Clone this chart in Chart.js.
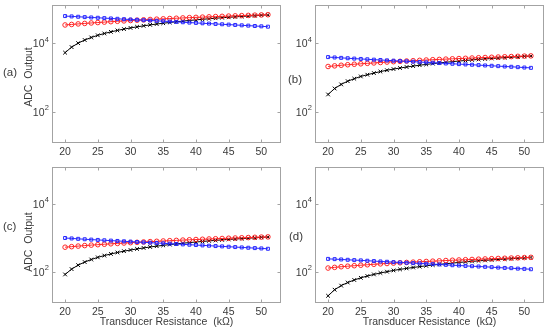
<!DOCTYPE html>
<html>
<head>
<meta charset="utf-8">
<script src="https://cdn.jsdelivr.net/npm/chart.js@4.4.1/dist/chart.umd.min.js"></script>
<style>
  html, body { margin: 0; padding: 0; background: #ffffff; }
  #wrap { position: relative; width: 550px; height: 333px; overflow: hidden; }
  #wrap canvas { position: absolute; left: 0; top: 0; }
</style>
</head>
<body>
<div id="wrap">
  <canvas id="pa" width="550" height="333"></canvas>
  <canvas id="pb" width="550" height="333"></canvas>
  <canvas id="pc" width="550" height="333"></canvas>
  <canvas id="pd" width="550" height="333"></canvas>
</div>
<script>
// ---- data ----
const resistance = [20,21,22,23,24,25,26,27,28,29,30,31,32,33,34,35,36,37,38,39,40,41,42,43,44,45,46,47,48,49,50,51];
const xTickValues = [20,25,30,35,40,45,50];
const yTickExponents = [2,4];
const panelLabels = ['(a)','(b)','(c)','(d)'];
const yTitle = 'ADC  Output';
const xTitle = 'Transducer Resistance  (kΩ)';

const aBlue  = [61700,60300,58900,57500,56200,55000,53700,52500,51300,50100,49000,47900,46800,45700,44700,43700,42700,41700,40700,39800,38900,38000,37200,36300,35500,34700,33900,33100,32400,31600,30900,30200];
const aRed   = [33900,35100,36400,37600,38800,39900,41100,42300,43400,44600,45700,46800,47900,49000,50100,51200,52300,53300,54400,55500,56500,57500,58600,59600,60600,61600,62600,63600,64600,65600,66600,67600];
const aBlack = [5250,7620,9970,12300,14600,16900,19100,21300,23500,25700,27800,29900,32000,34100,36100,38100,40100,42100,44000,45900,47800,49600,51500,53300,55100,56800,58500,60200,61900,63500,65500,67000];

const bBlue  = [3900,3800,3700,3610,3520,3440,3360,3280,3210,3130,3060,2990,2930,2860,2790,2730,2670,2610,2540,2490,2430,2380,2330,2270,2220,2170,2120,2070,2030,1980,1930,1890];
const bRed   = [2070,2160,2250,2330,2410,2480,2560,2630,2710,2790,2860,2930,2990,3060,3130,3200,3270,3330,3400,3470,3530,3590,3660,3730,3790,3850,3910,3980,4040,4100,4160,4230];
const bBlack = [315,470,620,770,910,1060,1190,1330,1470,1610,1740,1870,2000,2130,2260,2380,2510,2630,2750,2870,2990,3100,3220,3330,3440,3550,3660,3760,3870,3970,4090,4190];

const cBlue  = [980,950,925,900,878,859,839,820,802,783,766,748,731,714,698,683,667,652,636,622,608,594,581,567,555,542,530,517,506,494,483,472];
const cRed   = [525,545,566,586,605,623,642,661,678,697,714,731,748,766,783,800,817,833,850,867,883,898,916,931,947,963,978,994,1009,1025,1041,1056];
const cBlack = [83,119,156,192,228,264,298,333,367,402,434,467,500,533,564,595,627,658,688,717,747,775,805,833,861,888,914,941,967,992,1023,1047];

const dBlue  = [238,234,229,224,219,215,210,205,200,196,191,187,183,179,175,171,167,163,159,155,152,148,145,142,139,136,132,129,127,123,121,118];
const dRed   = [128,134,140,145,150,155,160,165,170,174,179,183,187,191,196,200,204,208,213,217,221,225,229,233,237,241,245,248,252,256,260,264];
const dBlack = [19.5,29.5,38.9,48.0,57.0,66.0,74.6,83.2,91.8,100,109,117,125,133,141,149,157,164,172,179,187,194,201,208,215,222,229,235,242,248,256,262];

// ---- styling ----
const FONT = '"Liberation Sans", Arial, Helvetica, sans-serif';
const TEXT = '#3a3a3a';
const FRAME = '#a3a3a3';
const BLUE = '#2626ff';
const RED = '#ff2626';
const BLACK = '#000000';

function pts(arr) { return resistance.map((x, i) => ({ x: x, y: arr[i] })); }

const framePlugin = {
  id: 'matlabFrame',
  beforeDatasetsDraw(chart) {
    const o = chart.options.plugins.matlabFrame;
    const { ctx, chartArea: a, scales } = chart;
    const xs = scales.x, ys = scales.y;
    ctx.save();
    ctx.strokeStyle = FRAME;
    ctx.lineWidth = 1;
    const L = Math.round(a.left) + 0.5, R = Math.round(a.right) - 0.5;
    const T = Math.round(a.top) + 0.5, B = Math.round(a.bottom) - 0.5;
    ctx.strokeRect(L, T, R - L, B - T);
    ctx.beginPath();
    xTickValues.forEach(v => {
      const px = Math.round(xs.getPixelForValue(v)) + 0.5;
      ctx.moveTo(px, B); ctx.lineTo(px, B - 3);
      ctx.moveTo(px, T); ctx.lineTo(px, T + 3);
    });
    yTickExponents.forEach(e => {
      const py = Math.round(ys.getPixelForValue(Math.pow(10, e))) + 0.5;
      ctx.moveTo(L, py); ctx.lineTo(L + 3, py);
      ctx.moveTo(R, py); ctx.lineTo(R - 3, py);
    });
    ctx.stroke();
    ctx.fillStyle = TEXT;
    // x tick labels
    ctx.font = '10.5px ' + FONT;
    ctx.textAlign = 'center'; ctx.textBaseline = 'middle';
    xTickValues.forEach(v => {
      ctx.fillText(String(v), xs.getPixelForValue(v), a.bottom + 9.5);
    });
    // y tick labels with superscripts
    yTickExponents.forEach(e => {
      const py = ys.getPixelForValue(Math.pow(10, e));
      ctx.font = '7.5px ' + FONT;
      const sup = String(e);
      const sw = ctx.measureText(sup).width;
      const xr = a.left - 3;
      ctx.textAlign = 'left'; ctx.textBaseline = 'middle';
      ctx.fillText(sup, xr - sw, py - 3.5);
      ctx.font = '10.5px ' + FONT;
      ctx.textAlign = 'right';
      ctx.fillText('10', xr - sw - 0.3, py + 1.5);
    });
    // panel label
    ctx.font = '11.5px ' + FONT;
    ctx.textAlign = 'left'; ctx.textBaseline = 'middle';
    ctx.fillText(o.label, o.labelX, o.labelY);
    // y title
    if (o.yTitle) {
      ctx.save();
      ctx.font = '10.5px ' + FONT;
      ctx.translate(o.yTitleX, (a.top + a.bottom) / 2 + o.yTitleDy);
      ctx.rotate(-Math.PI / 2);
      ctx.textAlign = 'center'; ctx.textBaseline = 'middle';
      ctx.fillText(yTitle, 0, 0);
      ctx.restore();
    }
    if (o.xTitle) {
      ctx.font = '10.5px ' + FONT;
      ctx.textAlign = 'center'; ctx.textBaseline = 'middle';
      ctx.fillText(xTitle, (a.left + a.right) / 2, o.xTitleY);
    }
    ctx.restore();
  }
};

function makePanel(id, rect, yMax, blue, red, black, opts) {
  new Chart(document.getElementById(id), {
    type: 'line',
    data: {
      datasets: [
        { data: pts(blue), borderColor: BLUE, borderWidth: 1, pointStyle: 'rect', pointRadius: 2.1,
          pointBorderColor: BLUE, pointBackgroundColor: 'rgba(0,0,0,0)', pointBorderWidth: 1, tension: 0 },
        { data: pts(red), borderColor: RED, borderWidth: 1, pointStyle: 'circle', pointRadius: 2.3,
          pointBorderColor: RED, pointBackgroundColor: 'rgba(0,0,0,0)', pointBorderWidth: 1, tension: 0 },
        { data: pts(black), borderColor: BLACK, borderWidth: 1, pointStyle: 'crossRot', pointRadius: 2.6,
          pointBorderColor: BLACK, pointBorderWidth: 1, tension: 0 }
      ]
    },
    options: {
      responsive: false,
      animation: false,
      devicePixelRatio: 1,
      events: [],
      layout: { padding: { left: rect.l, top: rect.t, right: 550 - rect.r, bottom: 333 - rect.b } },
      scales: {
        x: { type: 'linear', min: 18, max: 53, display: false },
        y: { type: 'logarithmic', min: 12, max: yMax, display: false }
      },
      plugins: {
        legend: { display: false },
        tooltip: { enabled: false },
        matlabFrame: opts
      }
    },
    plugins: [framePlugin]
  });
}

makePanel('pa', { l: 52, t: 5, r: 281, b: 143 }, 1.3e5, aBlue, aRed, aBlack,
  { label: panelLabels[0], labelX: 3, labelY: 73, yTitle: true, yTitleX: 29, yTitleDy: 3, xTitle: false });
makePanel('pb', { l: 315, t: 5, r: 544, b: 143 }, 1.3e5, bBlue, bRed, bBlack,
  { label: panelLabels[1], labelX: 288, labelY: 80, yTitle: false, xTitle: false });
makePanel('pc', { l: 52, t: 167, r: 281, b: 303 }, 1.2e5, cBlue, cRed, cBlack,
  { label: panelLabels[2], labelX: 3, labelY: 227, yTitle: true, yTitleX: 29, yTitleDy: 7, xTitle: true, xTitleY: 322 });
makePanel('pd', { l: 315, t: 167, r: 544, b: 303 }, 1.2e5, dBlue, dRed, dBlack,
  { label: panelLabels[3], labelX: 289, labelY: 237, yTitle: false, xTitle: true, xTitleY: 322 });
</script>
</body>
</html>
